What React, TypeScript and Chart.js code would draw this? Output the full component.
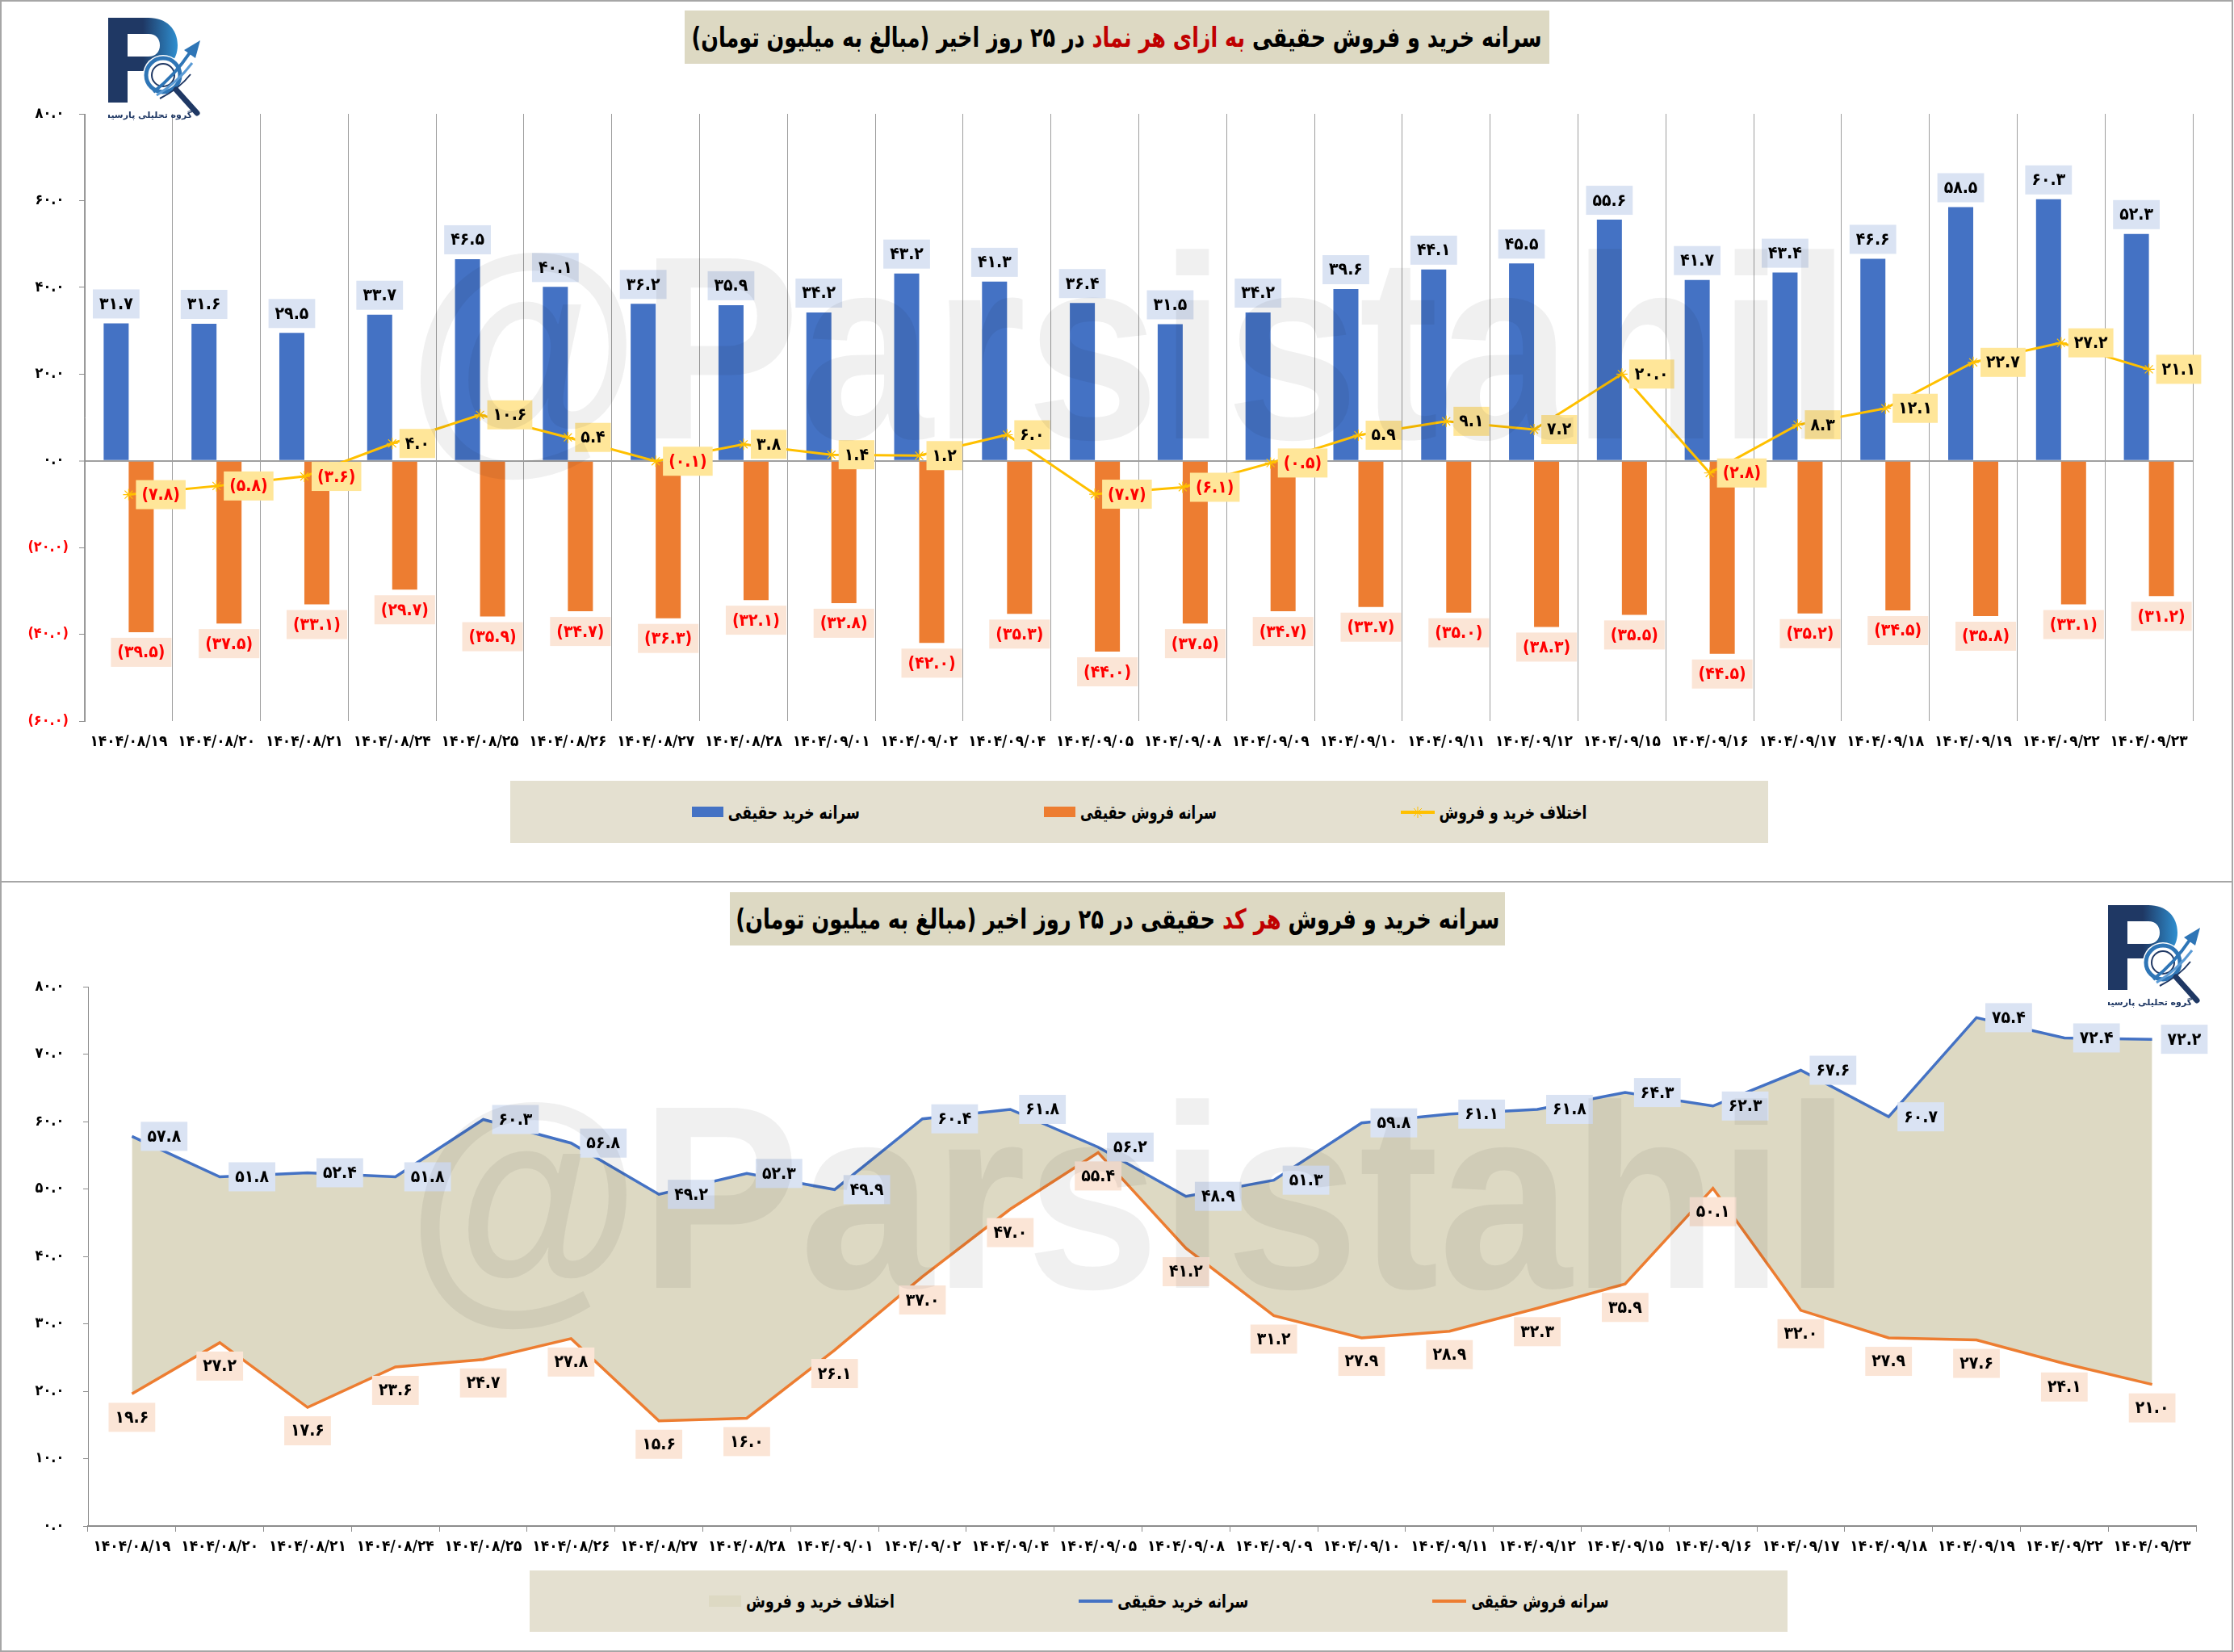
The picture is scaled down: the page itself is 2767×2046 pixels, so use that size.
import React, { useEffect, useLayoutEffect, useRef } from "react";
import { Chart, registerables } from "chart.js";

Chart.register(...registerables);

// ---------------- data ----------------
const dates = [
  "۱۴۰۴/۰۸/۱۹", "۱۴۰۴/۰۸/۲۰", "۱۴۰۴/۰۸/۲۱", "۱۴۰۴/۰۸/۲۴", "۱۴۰۴/۰۸/۲۵", "۱۴۰۴/۰۸/۲۶",
  "۱۴۰۴/۰۸/۲۷", "۱۴۰۴/۰۸/۲۸", "۱۴۰۴/۰۹/۰۱", "۱۴۰۴/۰۹/۰۲", "۱۴۰۴/۰۹/۰۴", "۱۴۰۴/۰۹/۰۵",
  "۱۴۰۴/۰۹/۰۸", "۱۴۰۴/۰۹/۰۹", "۱۴۰۴/۰۹/۱۰", "۱۴۰۴/۰۹/۱۱", "۱۴۰۴/۰۹/۱۲", "۱۴۰۴/۰۹/۱۵",
  "۱۴۰۴/۰۹/۱۶", "۱۴۰۴/۰۹/۱۷", "۱۴۰۴/۰۹/۱۸", "۱۴۰۴/۰۹/۱۹", "۱۴۰۴/۰۹/۲۲", "۱۴۰۴/۰۹/۲۳",
];

const buyPerSymbol = [31.7, 31.6, 29.5, 33.7, 46.5, 40.1, 36.2, 35.9, 34.2, 43.2, 41.3, 36.4, 31.5, 34.2, 39.6, 44.1, 45.5, 55.6, 41.7, 43.4, 46.6, 58.5, 60.3, 52.3];
const sellPerSymbol = [-39.5, -37.5, -33.1, -29.7, -35.9, -34.7, -36.3, -32.1, -32.8, -42.0, -35.3, -44.0, -37.5, -34.7, -33.7, -35.0, -38.3, -35.5, -44.5, -35.2, -34.5, -35.8, -33.1, -31.2];
const diffPerSymbol = [-7.8, -5.8, -3.6, 4.0, 10.6, 5.4, -0.1, 3.8, 1.4, 1.2, 6.0, -7.7, -6.1, -0.5, 5.9, 9.1, 7.2, 20.0, -2.8, 8.3, 12.1, 22.7, 27.2, 21.1];

const buyPerCode = [57.8, 51.8, 52.4, 51.8, 60.3, 56.8, 49.2, 52.3, 49.9, 60.4, 61.8, 56.2, 48.9, 51.3, 59.8, 61.1, 61.8, 64.3, 62.3, 67.6, 60.7, 75.4, 72.4, 72.2];
const sellPerCode = [19.6, 27.2, 17.6, 23.6, 24.7, 27.8, 15.6, 16.0, 26.1, 37.0, 47.0, 55.4, 41.2, 31.2, 27.9, 28.9, 32.3, 35.9, 50.1, 32.0, 27.9, 27.6, 24.1, 21.0];

const topAxisRange = [-60, 80, 20];
const bottomAxisRange = [0, 80, 10];

const seriesNamesTop = ["سرانه خرید حقیقی", "سرانه فروش حقیقی", "اختلاف خرید و فروش"];
const seriesNamesBottom = ["اختلاف خرید و فروش", "سرانه خرید حقیقی", "سرانه فروش حقیقی"];

// ---------------- helpers ----------------
const FONT = '"DejaVu Sans Condensed", "DejaVu Sans", sans-serif';
const WEIGHT = "bold semi-condensed";
const FA = "۰۱۲۳۴۵۶۷۸۹";
const NEG_RED = "#FF0000";
const toFa = (s: string) => s.replace(/[0-9]/g, (d) => FA[+d]);
const fmt1 = (v: number) => (v < 0 ? `(${toFa(Math.abs(v).toFixed(1))})` : toFa(v.toFixed(1)));
const fmtTick = (v: number) => (v < 0 ? `(${toFa(Math.abs(v).toFixed(1))})` : toFa(v.toFixed(1)) + " ");

type LabelCfg = {
  pos: "above" | "below" | "right";
  bg: string;
  color: string;
  gap: number;
  h: number;
  padX: number;
  size: number;
};

function makeLabelPlugin(cfgs: { [k: number]: LabelCfg }) {
  return {
    id: "boxLabels",
    afterDatasetsDraw(chart: any) {
      const ctx = chart.ctx;
      ctx.save();
      Object.keys(cfgs).forEach((k) => {
        const di = Number(k);
        const cfg = cfgs[di];
        const meta = chart.getDatasetMeta(di);
        const data = chart.data.datasets[di].data as number[];
        ctx.font = `${WEIGHT} ${cfg.size}px ${FONT}`;
        meta.data.forEach((el: any, i: number) => {
          const v = data[i];
          const text = fmt1(v);
          const tw = ctx.measureText(text).width;
          const w = tw + cfg.padX * 2;
          const h = cfg.h;
          const { x, y } = el.getProps(["x", "y"], true);
          let bx = 0;
          let by = 0;
          if (cfg.pos === "above") {
            bx = x - w / 2;
            by = y - cfg.gap - h;
          } else if (cfg.pos === "below") {
            bx = x - w / 2;
            by = y + cfg.gap;
          } else {
            bx = x + cfg.gap;
            by = y - h / 2;
          }
          ctx.fillStyle = cfg.bg;
          ctx.fillRect(bx, by, w, h);
          ctx.fillStyle = v < 0 ? NEG_RED : cfg.color;
          ctx.textAlign = "center";
          ctx.textBaseline = "middle";
          ctx.fillText(text, bx + w / 2, by + h / 2 + 1);
        });
      });
      ctx.restore();
    },
  };
}

// ---------------- charts ----------------
function TopChart() {
  const ref = useRef<HTMLCanvasElement | null>(null);
  useEffect(() => {
    if (!ref.current) return;
    const chart = new Chart(ref.current, {
      type: "bar",
      data: {
        labels: dates,
        datasets: [
          {
            type: "line",
            label: seriesNamesTop[2],
            data: diffPerSymbol,
            borderColor: "#FFC000",
            backgroundColor: "#FFC000",
            borderWidth: 3,
            pointStyle: "star",
            pointRadius: 7,
            pointBorderWidth: 1.2,
            pointBorderColor: "#FFC000",
            tension: 0,
            order: 0,
          } as any,
          {
            label: seriesNamesTop[0],
            data: buyPerSymbol,
            backgroundColor: "#4472C4",
            categoryPercentage: 0.57,
            barPercentage: 1.0,
            order: 1,
          },
          {
            label: seriesNamesTop[1],
            data: sellPerSymbol,
            backgroundColor: "#ED7D31",
            categoryPercentage: 0.57,
            barPercentage: 1.0,
            order: 1,
          },
        ],
      },
      options: {
        responsive: false,
        maintainAspectRatio: false,
        devicePixelRatio: 1,
        animation: false,
        layout: { padding: { left: 0, right: 51, top: 141, bottom: 0 } },
        plugins: { legend: { display: false }, tooltip: { enabled: false } },
        scales: {
          x: {
            type: "category",
            offset: true,
            grid: { offset: true, color: "#9E9E9E", lineWidth: 1, drawTicks: false },
            border: { display: false },
            ticks: {
              autoSkip: false,
              maxRotation: 0,
              minRotation: 0,
              padding: 15,
              color: "#000",
              font: { family: FONT, size: 19, weight: WEIGHT },
            },
            afterFit: (s: any) => {
              s.height = 57;
            },
          },
          y: {
            min: topAxisRange[0],
            max: topAxisRange[1],
            z: 1,
            ticks: {
              stepSize: topAxisRange[2],
              padding: 13,
              color: (c: any) => (c.tick && c.tick.value < 0 ? NEG_RED : "#000000"),
              font: { family: FONT, size: 18, weight: WEIGHT },
              callback: (v: any) => fmtTick(Number(v)),
            },
            grid: {
              color: (c: any) => (c.tick && c.tick.value === 0 ? "#A0A0A0" : "rgba(0,0,0,0)"),
              lineWidth: (c: any) => (c.tick && c.tick.value === 0 ? 2 : 1),
              drawTicks: true,
              tickLength: 7,
              tickColor: "#8C8C8C",
              tickWidth: 1,
            },
            border: { display: true, color: "#8C8C8C", width: 1 },
            afterFit: (s: any) => {
              s.width = 105;
            },
          },
        },
      } as any,
      plugins: [
        makeLabelPlugin({
          0: { pos: "right", bg: "#FFE699", color: "#000000", gap: 9, h: 36, padX: 7, size: 21 },
          1: { pos: "above", bg: "#DAE3F3", color: "#000000", gap: 6, h: 36, padX: 8, size: 21 },
          2: { pos: "below", bg: "#FBE5D6", color: "#000000", gap: 7, h: 36, padX: 8, size: 21 },
        }),
      ],
    } as any);
    return () => chart.destroy();
  }, []);
  return (
    <canvas
      ref={ref}
      width={2767}
      height={950}
      style={{ position: "absolute", left: 0, top: 0, width: 2767, height: 950 }}
    />
  );
}

function BottomChart() {
  const ref = useRef<HTMLCanvasElement | null>(null);
  useEffect(() => {
    if (!ref.current) return;
    const chart = new Chart(ref.current, {
      type: "line",
      data: {
        labels: dates,
        datasets: [
          {
            label: seriesNamesBottom[1],
            data: buyPerCode,
            borderColor: "#4472C4",
            borderWidth: 3.5,
            pointRadius: 0,
            fill: false,
            tension: 0,
            order: 1,
          },
          {
            label: seriesNamesBottom[2],
            data: sellPerCode,
            borderColor: "#ED7D31",
            borderWidth: 3.5,
            pointRadius: 0,
            fill: false,
            tension: 0,
            order: 2,
          },
          {
            label: seriesNamesBottom[0],
            data: buyPerCode,
            borderColor: "rgba(0,0,0,0)",
            borderWidth: 0,
            pointRadius: 0,
            backgroundColor: "#DDD9C3",
            fill: { target: 1 },
            tension: 0,
            order: 3,
          },
        ],
      },
      options: {
        responsive: false,
        maintainAspectRatio: false,
        devicePixelRatio: 1,
        animation: false,
        layout: { padding: { left: 0, right: 47, top: 130, bottom: 0 } },
        plugins: { legend: { display: false }, tooltip: { enabled: false } },
        scales: {
          x: {
            type: "category",
            offset: true,
            grid: {
              offset: true,
              drawOnChartArea: false,
              drawTicks: true,
              tickLength: 7,
              tickColor: "#8C8C8C",
              tickWidth: 1,
            },
            border: { display: true, color: "#8C8C8C", width: 2 },
            ticks: {
              autoSkip: false,
              maxRotation: 0,
              minRotation: 0,
              padding: 8,
              color: "#000",
              font: { family: FONT, size: 19, weight: WEIGHT },
            },
            afterFit: (s: any) => {
              s.height = 62;
            },
          },
          y: {
            min: bottomAxisRange[0],
            max: bottomAxisRange[1],
            ticks: {
              stepSize: bottomAxisRange[2],
              padding: 18,
              color: "#000",
              font: { family: FONT, size: 18, weight: WEIGHT },
              callback: (v: any) => fmtTick(Number(v)),
            },
            grid: {
              drawOnChartArea: false,
              drawTicks: true,
              tickLength: 6,
              tickColor: "#8C8C8C",
              tickWidth: 1,
            },
            border: { display: true, color: "#8C8C8C", width: 1 },
            afterFit: (s: any) => {
              s.width = 109;
            },
          },
        },
      } as any,
      plugins: [
        makeLabelPlugin({
          0: { pos: "right", bg: "#DAE3F3", color: "#000000", gap: 11, h: 36, padX: 8, size: 21 },
          1: { pos: "below", bg: "#FBE5D6", color: "#000000", gap: 11, h: 36, padX: 8, size: 21 },
        }),
      ],
    } as any);
    return () => chart.destroy();
  }, []);
  return (
    <canvas
      ref={ref}
      width={2767}
      height={860}
      style={{ position: "absolute", left: 0, top: 1092, width: 2767, height: 860 }}
    />
  );
}

// ---------------- decorations ----------------
function Logo({ left, top, id }: { left: number; top: number; id: string }) {
  return (
    <svg style={{ position: "absolute", left, top }} width={124} height={130} viewBox="0 0 124 130">
      <defs>
        <linearGradient id={id} x1="0" y1="0" x2="1" y2="0">
          <stop offset="0" stopColor="#1F3864" />
          <stop offset="0.5" stopColor="#1F3864" />
          <stop offset="1" stopColor="#2F8FD0" />
        </linearGradient>
      </defs>
      <path
        fillRule="evenodd"
        fill={`url(#${id})`}
        d="M0 0 H50 C72 0 86 14 86 34 C86 54 72 66 50 66 H24 V105 H0 Z M24 20 V48 H50 C59 48 64 42 64 34 C64 26 59 20 50 20 Z"
      />
      <circle cx="68" cy="71" r="25" fill="#ffffff" />
      <circle cx="68" cy="71" r="21" fill="none" stroke="#2E75B6" strokeWidth="5" />
      <circle cx="68" cy="71" r="14" fill="none" stroke="#1F3864" strokeWidth="2" />
      <line x1="84" y1="89" x2="110" y2="118" stroke="#1F3864" strokeWidth="7" strokeLinecap="round" />
      <path d="M56 92 Q82 72 102 42" stroke="#2E75B6" strokeWidth="4" fill="none" />
      <path d="M60 96 Q86 80 104 56" stroke="#5B9BD5" strokeWidth="3" fill="none" />
      <path d="M64 100 Q88 88 102 70" stroke="#1F3864" strokeWidth="2" fill="none" />
      <polygon points="94,40 114,28 108,50" fill="#2E75B6" />
      <text x="46" y="124" fontSize="11" fontWeight="bold" fill="#1F3864" textAnchor="middle" fontFamily="DejaVu Sans">
        گروه تحلیلی پارسیس
      </text>
    </svg>
  );
}

function Watermark({ top }: { top: number }) {
  return (
    <div
      style={{
        position: "absolute",
        left: 504,
        top,
        fontFamily: '"Liberation Sans", Arial, sans-serif',
        fontWeight: "bold",
        fontSize: 324,
        lineHeight: "324px",
        color: "rgba(0,0,0,0.06)",
        whiteSpace: "nowrap",
        transform: "scaleX(0.915)",
        transformOrigin: "left top",
        pointerEvents: "none",
      }}
    >
      @Parsistahil
    </div>
  );
}

const textBase: any = {
  fontFamily: FONT,
  fontWeight: "bold",
  fontStretch: "semi-condensed",
  color: "#000",
  direction: "rtl",
  whiteSpace: "nowrap",
  unicodeBidi: "isolate",
};

function FitText(props: { target: number; size: number; children: any; style?: any }) {
  const ref = useRef<HTMLSpanElement | null>(null);
  useLayoutEffect(() => {
    const el = ref.current;
    if (!el) return;
    el.style.transform = "none";
    const w = el.getBoundingClientRect().width;
    if (w > 0) el.style.transform = `scaleX(${props.target / w})`;
  });
  return (
    <span
      ref={ref}
      style={{ ...textBase, fontSize: props.size, display: "inline-block", transformOrigin: "center", ...(props.style || {}) }}
    >
      {props.children}
    </span>
  );
}

function TitleBox(props: { left: number; top: number; width: number; height: number; target: number; children: any }) {
  return (
    <div
      style={{
        position: "absolute",
        left: props.left,
        top: props.top,
        width: props.width,
        height: props.height,
        background: "#DDD9C3",
        display: "flex",
        alignItems: "center",
        justifyContent: "center",
        overflow: "visible",
      }}
    >
      <FitText target={props.target} size={34}>
        {props.children}
      </FitText>
    </div>
  );
}

function LegendBox(props: { left: number; top: number; width: number; height: number; children: any }) {
  return (
    <div
      style={{
        position: "absolute",
        left: props.left,
        top: props.top,
        width: props.width,
        height: props.height,
        background: "#E4E0D0",
        display: "flex",
        alignItems: "center",
        justifyContent: "center",
        gap: 228,
      }}
    >
      {props.children}
    </div>
  );
}

function Item({ keyEl, text, target }: { keyEl: any; text: string; target: number }) {
  return (
    <div style={{ display: "flex", alignItems: "center" }}>
      {keyEl}
      <div style={{ width: target, marginLeft: 6, display: "flex", justifyContent: "center" }}>
        <FitText target={target} size={23}>
          {text}
        </FitText>
      </div>
    </div>
  );
}

const rectKey = (color: string, w = 39, h = 13) => <div style={{ width: w, height: h, background: color }} />;
const lineKey = (color: string) => (
  <svg width={42} height={20}>
    <line x1={0} y1={10} x2={42} y2={10} stroke={color} strokeWidth={4} />
  </svg>
);
const starLineKey = (color: string) => (
  <svg width={42} height={20}>
    <line x1={0} y1={10} x2={42} y2={10} stroke={color} strokeWidth={4} />
    <line x1={14} y1={10} x2={28} y2={10} stroke={color} strokeWidth={1} />
    <line x1={21} y1={3} x2={21} y2={17} stroke={color} strokeWidth={1} />
    <line x1={16} y1={5} x2={26} y2={15} stroke={color} strokeWidth={1} />
    <line x1={26} y1={5} x2={16} y2={15} stroke={color} strokeWidth={1} />
  </svg>
);

export default function App() {
  useEffect(() => {
    document.body.style.margin = "0";
    document.body.style.background = "#ffffff";
  }, []);
  return (
    <div style={{ position: "relative", width: 2767, height: 2046, overflow: "hidden", background: "#fff" }}>
      <div
        style={{
          position: "absolute",
          left: 0,
          top: 0,
          width: 2766,
          height: 1093,
          border: "2px solid #A6A6A6",
          boxSizing: "border-box",
        }}
      />
      <div
        style={{
          position: "absolute",
          left: 0,
          top: 1091,
          width: 2766,
          height: 955,
          border: "2px solid #A6A6A6",
          boxSizing: "border-box",
        }}
      />

      <TopChart />
      <BottomChart />

      <TitleBox left={848} top={13} width={1071} height={66} target={1053}>
        {"سرانه خرید و فروش حقیقی "}
        <span style={{ color: "#C00000" }}>به ازای هر نماد</span>
        {" در ۲۵ روز اخیر (مبالغ به میلیون تومان)"}
      </TitleBox>
      <TitleBox left={904} top={1105} width={960} height={66} target={946}>
        {"سرانه خرید و فروش "}
        <span style={{ color: "#C00000" }}>هر کد</span>
        {" حقیقی در ۲۵ روز اخیر (مبالغ به میلیون تومان)"}
      </TitleBox>

      <LegendBox left={632} top={967} width={1558} height={77}>
        <Item keyEl={rectKey("#4472C4")} text={seriesNamesTop[0]} target={163} />
        <Item keyEl={rectKey("#ED7D31")} text={seriesNamesTop[1]} target={169} />
        <Item keyEl={starLineKey("#FFC000")} text={seriesNamesTop[2]} target={183} />
      </LegendBox>
      <LegendBox left={656} top={1945} width={1558} height={76}>
        <Item keyEl={rectKey("#DDD9C3", 40, 14)} text={seriesNamesBottom[0]} target={184} />
        <Item keyEl={lineKey("#4472C4")} text={seriesNamesBottom[1]} target={162} />
        <Item keyEl={lineKey("#ED7D31")} text={seriesNamesBottom[2]} target={170} />
      </LegendBox>

      <Logo left={134} top={22} id="lg1" />
      <Logo left={2611} top={1121} id="lg2" />

      <Watermark top={269} />
      <Watermark top={1321} />
    </div>
  );
}
